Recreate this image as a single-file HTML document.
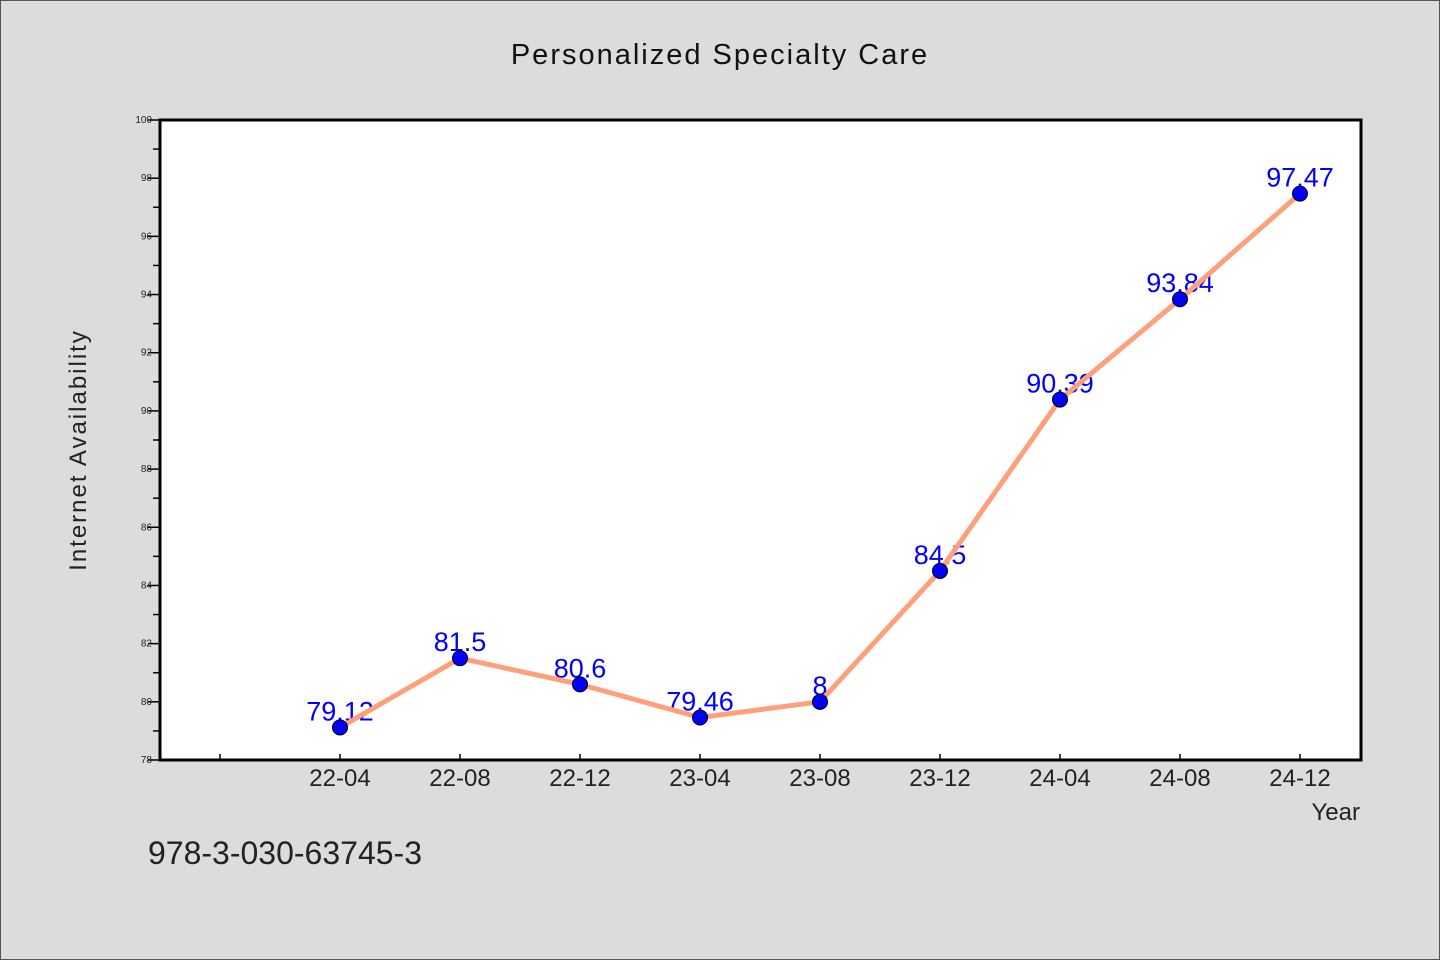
<!DOCTYPE html>
<html><head><meta charset="utf-8"><style>
body{margin:0;background:#dcdcdc}
svg{display:block}
text{font-family:"WenQuanYi Zen Hei","Liberation Sans",sans-serif}
</style></head><body>
<svg id="c" width="1440" height="960">
<rect x="0.5" y="0.5" width="1439" height="959" fill="#dcdcdc" stroke="#555"/>
<text x="720" y="64" text-anchor="middle" font-size="29" letter-spacing="2" fill="#111">Personalized Specialty Care</text>
<rect x="160" y="120" width="1201" height="640" fill="#fff"/>
<g id="yax"></g>
<g id="xax"></g>
<g id="marks"></g>
<rect x="160" y="120" width="1201" height="640" fill="none" stroke="#000" stroke-width="3"/>
<text x="86" y="450" transform="rotate(-90 86 450)" text-anchor="middle" font-size="24" letter-spacing="2" fill="#222">Internet Availability</text>
<text x="1360" y="820" text-anchor="end" font-size="24" fill="#222">Year</text>
<text x="148" y="864" font-size="32" fill="#222">978-3-030-63745-3</text>
</svg>
<script>
const categories=["","22-04","22-08","22-12","23-04","23-08","23-12","24-04","24-08","24-12"];
const values=[null,79.12,81.5,80.6,79.46,80,84.5,90.39,93.84,97.47];
const labels=["","79.12","81.5","80.6","79.46","8","84.5","90.39","93.84","97.47"];
const yTicks=[78,80,82,84,86,88,90,92,94,96,98,100];
const NS="http://www.w3.org/2000/svg";
const x0=160,slot=120,yTop=120,yBot=760,yMin=78,yMax=100;
const xs=i=>x0+slot/2+slot*i;
const ys=v=>yBot-(v-yMin)/(yMax-yMin)*(yBot-yTop);
function mk(tag,at,parent){const e=document.createElementNS(NS,tag);for(const k in at)e.setAttribute(k,at[k]);parent.appendChild(e);return e;}
const yax=document.getElementById('yax'),xax=document.getElementById('xax'),marks=document.getElementById('marks');
yTicks.forEach((t,i)=>{
 const y=ys(t);
 const l=mk('line',{x1:148,x2:160,y1:y,y2:y,stroke:'#000','stroke-width':1.5},yax);
 
 
 const tx=mk('text',{x:152,y:y+3,'text-anchor':'end','font-size':10,fill:'#222'},yax);
 tx.textContent=t;
 
 
 if(i<yTicks.length-1){const ym=ys(t+1);
  const m=mk('line',{x1:153,x2:160,y1:ym,y2:ym,stroke:'#000','stroke-width':1.5},yax);
  
  }
});
categories.forEach((c,i)=>{
 const x=xs(i);
 const l=mk('line',{x1:x,x2:x,y1:yBot-6,y2:yBot,stroke:'#000','stroke-width':1.5},xax);
 
 
 if(c){const t=mk('text',{x:x,y:786,'text-anchor':'middle','font-size':24,fill:'#222'},xax);
  t.textContent=c;
  
  }
});
values.forEach((v,i)=>{if(v==null)return;
 const t=mk('text',{x:xs(i),y:ys(v)-7,'text-anchor':'middle','font-size':27,fill:'#0000ff'},marks);
 t.textContent=labels[i];
 
 
});
const pts=values.map((v,i)=>v==null?null:xs(i)+','+ys(v)).filter(p=>p).join(' ');
const pl=mk('polyline',{points:pts,fill:'none',stroke:'#ffa07a','stroke-width':5,'stroke-linejoin':'round'},marks);


values.forEach((v,i)=>{if(v==null)return;
 const c=mk('circle',{cx:xs(i),cy:ys(v),r:7.5,fill:'#0000ff',stroke:'#000','stroke-width':1},marks);
 
 
});
</script>
</body></html>
